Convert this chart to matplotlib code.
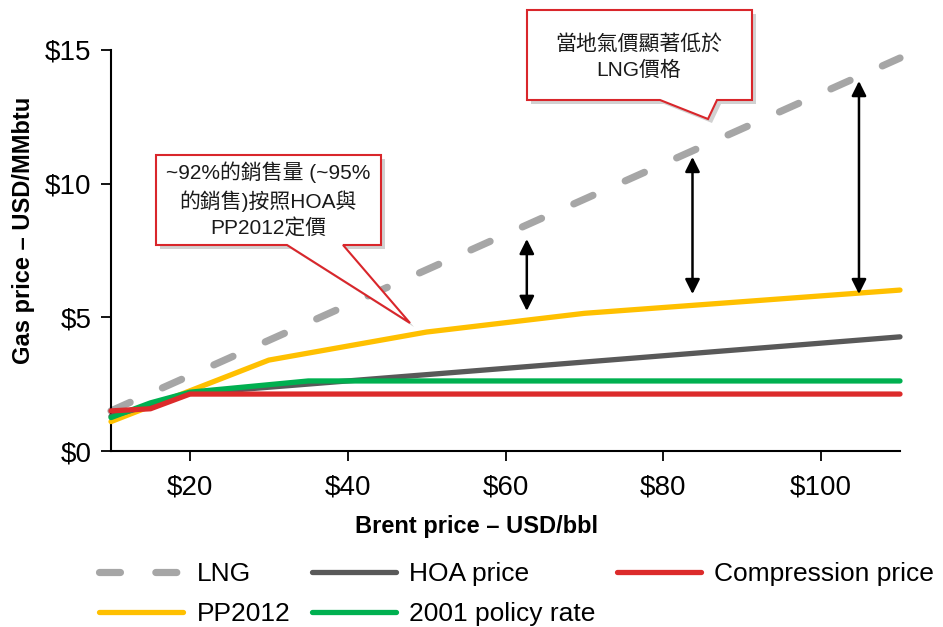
import matplotlib
matplotlib.use("Agg")
import matplotlib.pyplot as plt
from matplotlib.patches import Polygon

plt.rcParams['font.family'] = ['Liberation Sans', 'Noto Sans CJK TC', 'DejaVu Sans']

# ---- data ----
lng_x = [10, 110]
lng_y = [1.5, 14.7]
hoa_x = [10, 20, 110]
hoa_y = [1.3, 2.15, 4.27]
comp_x = [10, 15, 20, 110]
comp_y = [1.5, 1.58, 2.13, 2.13]
pp_x = [10, 20, 30, 50, 70, 110]
pp_y = [1.1, 2.25, 3.4, 4.45, 5.15, 6.02]
pol_x = [10, 15, 20, 35, 110]
pol_y = [1.25, 1.8, 2.2, 2.62, 2.62]

x_ticks = [20, 40, 60, 80, 100]
x_ticklabels = ['$20', '$40', '$60', '$80', '$100']
y_ticks = [0, 5, 10, 15]
y_ticklabels = ['$0', '$5', '$10', '$15']

arrow_x = [62.7, 83.7, 104.8]
arrow_lo = [5.24, 5.87, 5.87]
arrow_hi = [7.93, 11.0, 13.84]

W, H = 943, 627
fig = plt.figure(figsize=(W / 100, H / 100), dpi=100)
ax = fig.add_axes([111 / W, 1 - 451 / H, (900 - 111) / W, (451 - 50) / H])

ln_lng, = ax.plot(lng_x, lng_y, color='#A6A6A6', lw=5.2, solid_capstyle='round',
                  dash_capstyle='round', zorder=2, label='LNG')
ln_lng.set_dashes([2.9, 4.9])
ln_pp, = ax.plot(pp_x, pp_y, color='#FFC000', lw=3.8, solid_capstyle='round',
                 solid_joinstyle='round', zorder=3, label='PP2012')
ln_hoa, = ax.plot(hoa_x, hoa_y, color='#595959', lw=3.8, solid_capstyle='round',
                  solid_joinstyle='round', zorder=4, label='HOA price')
ln_pol, = ax.plot(pol_x, pol_y, color='#00B050', lw=3.8, solid_capstyle='round',
                  solid_joinstyle='round', zorder=5, label='2001 policy rate')
ln_comp, = ax.plot(comp_x, comp_y, color='#DC2B2B', lw=3.8, solid_capstyle='round',
                   solid_joinstyle='round', zorder=6, label='Compression price')

for ln in (ln_lng, ln_pp, ln_hoa, ln_pol, ln_comp):
    ln.set_clip_on(False)

ax.set_xlim(10, 110)
ax.set_ylim(0, 15)
ax.set_xticks(x_ticks)
ax.set_xticklabels(x_ticklabels)
ax.set_yticks(y_ticks)
ax.set_yticklabels(y_ticklabels)
ax.tick_params(axis='both', labelsize=20, length=7, width=1.3, direction='out', color='black')
ax.tick_params(axis='x', pad=10)
ax.tick_params(axis='y', pad=7)
for s in ['top', 'right']:
    ax.spines[s].set_visible(False)
for s in ['left', 'bottom']:
    ax.spines[s].set_linewidth(1.5)

# arrows
for xa, lo, hi in zip(arrow_x, arrow_lo, arrow_hi):
    ax.annotate('', xy=(xa, hi), xytext=(xa, lo),
                arrowprops=dict(arrowstyle='<|-|>', color='black', lw=1.8,
                                mutation_scale=22, shrinkA=0, shrinkB=0), zorder=8)

# axis labels
fig.text(476 / W, 1 - 527 / H, 'Brent price – USD/bbl', ha='center', va='center',
         fontsize=17, fontweight='bold')
fig.text(24 / W, 1 - 230 / H, 'Gas price – USD/MMbtu', ha='center', va='center',
         fontsize=17, fontweight='bold', rotation=90)


def px(pts):
    return [(x / W, 1 - y / H) for x, y in pts]


def callout(pts, text, cx, cy):
    shadow = [(x + 4, y + 4) for x, y in pts]
    fig.add_artist(Polygon(px(shadow), closed=True, transform=fig.transFigure,
                           facecolor='#000000', alpha=0.18, edgecolor='none', zorder=9))
    fig.add_artist(Polygon(px(pts), closed=True, transform=fig.transFigure,
                           facecolor='white', edgecolor='#D9262B', lw=1.5, zorder=10))
    fig.text(cx / W, 1 - cy / H, text, ha='center', va='center', fontsize=15,
             linespacing=1.42, zorder=11, color='#1a1a1a')


callout([(527, 10), (752, 10), (752, 100), (717, 100), (708, 119), (660, 100), (527, 100)],
        '當地氣價顯著低於\nLNG價格', 639, 57)
callout([(156, 155), (381, 155), (381, 245), (343, 245), (410, 323), (287, 245), (156, 245)],
        '~92%的銷售量 (~95%\n的銷售)按照HOA與\nPP2012定價', 268, 200)

# legend
handles = [ln_lng, ln_pp, ln_hoa, ln_pol, ln_comp]
labels = [h.get_label() for h in handles]
fig.legend(handles, labels, loc='upper left', bbox_to_anchor=(99 / W, 1 - 562 / H),
           ncol=3, frameon=False, fontsize=19, handlelength=3.2, handletextpad=0.5,
           columnspacing=0.8, labelspacing=0.6, borderpad=0, borderaxespad=0)

fig.savefig('out.png', dpi=100)
